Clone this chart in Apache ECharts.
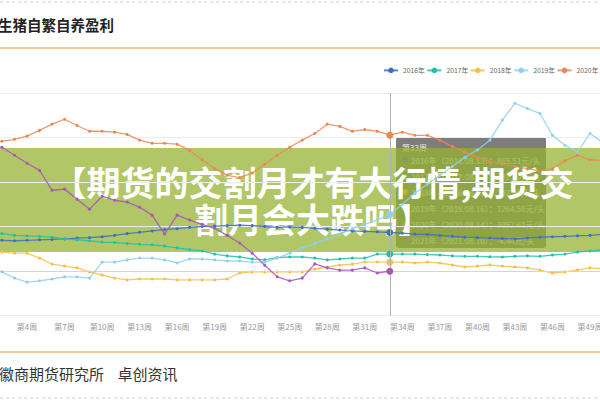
<!DOCTYPE html>
<html><head><meta charset="utf-8">
<script src="https://cdn.jsdelivr.net/npm/echarts@6/dist/echarts.min.js"></script>
<style>html,body{margin:0;padding:0;background:#fff;overflow:hidden;width:600px;height:400px;position:relative}#c{position:absolute;left:-50px;top:0;width:700px;height:400px}</style>
</head><body><div id="c"></div>
<script>
const weeks = ['第1周','第2周','第3周','第4周','第5周','第6周','第7周','第8周','第9周','第10周','第11周','第12周','第13周','第14周','第15周','第16周','第17周','第18周','第19周','第20周','第21周','第22周','第23周','第24周','第25周','第26周','第27周','第28周','第29周','第30周','第31周','第32周','第33周','第34周','第35周','第36周','第37周','第38周','第39周','第40周','第41周','第42周','第43周','第44周','第45周','第46周','第47周','第48周','第49周','第50周','第51周','第52周'];
const names = ['2016年','2017年','2018年','2019年','2020年','2021年'];
const s2016 = [700,690,680,690,700,710,720,740,750,770,800,840,870,900,930,950,980,1000,1010,1020,1030,1020,1000,980,990,980,960,940,920,900,890,880,865.51,850,830,820,800,780,760,750,740,730,720,740,760,770,780,790,800,820,830,840];
const s2017 = [850,840,800,790,780,760,720,700,680,650,640,620,600,590,560,520,480,450,380,340,315,270,250,300,315,315,290,250,270,290,290,380,381.2,380,380,370,360,340,330,330,320,315,330,340,330,360,380,425,450,470,480,500];
const s2018 = [430,425,400,400,290,155,110,70,-20,-90,-160,-200,-180,-180,-180,-200,-200,-200,-200,-180,-45,-20,-20,-20,-20,-20,45,90,135,155,200,200,197.3,200,180,200,180,135,90,110,135,110,90,70,20,-45,-20,20,70,45,50,60];
const s2019 = [70,-20,-160,-250,-220,-180,-130,-130,-160,200,200,250,290,290,250,180,270,270,250,225,225,200,200,290,400,520,620,720,820,950,1050,1150,1264.56,1500,1750,1950,2150,2350,2550,2720,2940,3390,3770,3650,3540,3050,2825,2670,3090,2890,2700,2600];
const s2020 = [2915,2915,2960,3030,3160,3300,3410,3270,3140,3140,3120,3070,2940,2870,2870,2850,2710,2500,2300,2150,2100,2200,2400,2600,2780,2940,3090,3300,3250,3140,3180,3140,3052.61,3120,3050,3050,2940,2800,2670,2550,2450,2400,2350,2300,2250,2300,2480,2600,2500,2480,2450,2400];
const s2021 = [2780,2780,2600,2420,2260,1815,1840,1615,1390,1680,1590,1550,1435,1255,830,1255,1145,1050,960,800,630,400,130,-130,-220,-160,160,70,20,20,70,-45,-4.44];
const tipWeekIndex = 32;
const tipDates = ['2016.08.13','2017.08.11','2018.08.17','2019.08.16','2020.08.14','2021.08.10'];
const bannerText = '【期货的交割月才有大行情,期货交\n割月会大跌吗】';
const titleText = '生猪自繁自养盈利';
const sourceText = '徽商期货研究所    卓创资讯';

const OX = 50; // container is shifted 50px left of the page
const colors = ['#3d6fc6','#22c1a3','#f4c04c','#8fd0f0','#ea8750','#a855b5'];
const allData = [s2016,s2017,s2018,s2019,s2020,s2021];
const FONT = '"Noto Sans CJK SC","Noto Sans",sans-serif';

const series = allData.map((d, i) => ({
  name: names[i], type: 'line', data: d.map((v, k) => k === tipWeekIndex ? {value: v, symbolSize: 7} : v),
  symbol: 'circle', symbolSize: 3, showSymbol: true, smooth: false,
  itemStyle: {color: colors[i]}, lineStyle: {color: colors[i], width: 1.3, opacity: 0.85},
  z: 2 + i
}));
series[0].markLine = {
  silent: true, symbol: 'none', label: {show: false},
  data: [
    {yAxis: 0, lineStyle: {color: '#d6d2e6', width: 1, type: 'solid'}},
    {xAxis: weeks[tipWeekIndex], lineStyle: {color: '#b0b0b0', width: 1, type: 'solid'}}
  ]
};

const tipChildren = [
  {type: 'rect', shape: {x: OX + 396, y: 137, width: 150, height: 111, r: 3}, style: {fill: 'rgba(75,75,75,0.72)'}},
  {type: 'text', x: OX + 402, y: 147, style: {text: weeks[tipWeekIndex], fontSize: 8, fill: '#eee', verticalAlign: 'middle', fontFamily: FONT}}
];
names.forEach((n, i) => {
  const y = 160 + i * 16;
  tipChildren.push({type: 'circle', shape: {cx: OX + 405, cy: y, r: 3}, style: {fill: colors[i]}});
  tipChildren.push({type: 'text', x: OX + 411, y: y, style: {text: n + '（' + tipDates[i] + '）：' + allData[i][tipWeekIndex].toFixed(2) + '元/头', fontSize: 8, fill: '#eee', verticalAlign: 'middle', fontFamily: FONT}});
});

const option = {
  animation: false,
  textStyle: {fontFamily: FONT},
  title: {text: titleText, left: OX - 2, top: 17, padding: 0, textStyle: {fontSize: 14.5, fontWeight: 'bold', color: '#222', fontFamily: FONT}},
  legend: {data: names.slice(0, 5), left: OX + 383, top: 67, padding: 0, itemWidth: 14, itemHeight: 7, itemGap: 1.5,
    textStyle: {fontSize: 6.8, color: '#666', fontFamily: FONT}},
  grid: {left: OX - 10.5, right: 700 - OX - 627.5, top: 93, bottom: 84.5, containLabel: false},
  xAxis: {type: 'category', data: weeks, boundaryGap: false,
    axisLine: {lineStyle: {color: '#e3e3e3'}}, axisTick: {show: false},
    axisLabel: {interval: 2, fontSize: 8, color: '#999', margin: 7}},
  yAxis: {type: 'value', min: -1000, max: 4000, interval: 1000,
    axisLabel: {show: false}, axisLine: {show: false}, axisTick: {show: false},
    splitLine: {lineStyle: {color: '#ececec'}}},
  series: series,
  graphic: [
    {type: 'line', shape: {x1: OX, y1: 2, x2: OX + 600, y2: 2}, style: {stroke: '#cfcfcf', lineWidth: 1, lineDash: [3, 3]}},
    {type: 'line', shape: {x1: OX, y1: 48, x2: OX + 600, y2: 48}, style: {stroke: '#f0b07c', lineWidth: 1.5}},
    {type: 'line', shape: {x1: OX, y1: 352, x2: OX + 600, y2: 352}, style: {stroke: '#f0b07c', lineWidth: 1.5}},
    {type: 'line', shape: {x1: OX, y1: 398, x2: OX + 600, y2: 398}, style: {stroke: '#cfcfcf', lineWidth: 1, lineDash: [3, 3]}},
    {type: 'text', x: OX - 1, y: 373, style: {text: sourceText, fontSize: 15, fill: '#333', verticalAlign: 'middle', fontFamily: FONT}},
    {type: 'group', z: 50, children: tipChildren},
    {type: 'group', z: 100, children: [
      {type: 'rect', shape: {x: OX, y: 148, width: 600, height: 104}, style: {fill: 'rgba(150,180,50,0.74)'}},
      {type: 'text', x: OX + 313, y: 200, style: {text: bannerText, fontSize: 34, fontWeight: 'bold', fill: '#fff', align: 'center', verticalAlign: 'middle', lineHeight: 37, fontFamily: FONT}}
    ]}
  ]
};
const chart = echarts.init(document.getElementById('c'), null, {renderer: 'svg', width: 700, height: 400});
chart.setOption(option);
</script></body></html>
